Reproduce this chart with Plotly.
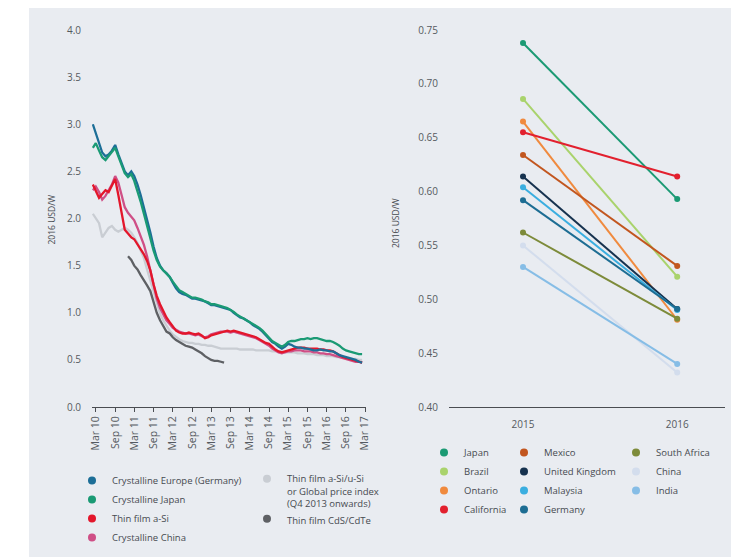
import pandas as pd
import plotly.graph_objects as go

W, H = 741, 557
# the page body adds an 8px offset; positions below are given in screen pixels
OX, OY = 8, 8

def px(x):
    return (x - OX) / W

def py(y):
    return 1 - (y - OY) / H

# ---------------- Left chart data (2016 USD/W, monthly from Feb 2010) ----------------
months = pd.date_range("2010-02-01", "2017-02-01", freq="MS")

crys_germany = [3.00, 2.90, 2.80, 2.70, 2.66, 2.68, 2.72, 2.78, 2.68, 2.58, 2.50, 2.46, 2.50, 2.45,
                2.36, 2.25, 2.12, 1.98, 1.85, 1.70, 1.58, 1.50, 1.45, 1.42, 1.38, 1.32,
                1.26, 1.22, 1.20, 1.19, 1.17, 1.15, 1.15, 1.14, 1.13, 1.12, 1.10, 1.08,
                1.08, 1.07, 1.06, 1.05, 1.04, 1.03, 1.00, 0.97, 0.95, 0.94, 0.92, 0.90,
                0.87, 0.85, 0.83, 0.80, 0.76, 0.72, 0.69, 0.67, 0.64, 0.62, 0.64, 0.67,
                0.66, 0.64, 0.63, 0.63, 0.62, 0.62, 0.61, 0.60, 0.60, 0.61, 0.60, 0.60,
                0.59, 0.59, 0.57, 0.55, 0.54, 0.53, 0.52, 0.51, 0.50, 0.48, 0.47]

crys_japan = [2.75, 2.80, 2.72, 2.65, 2.62, 2.66, 2.70, 2.75, 2.66, 2.56, 2.48, 2.44, 2.47, 2.40,
              2.30, 2.18, 2.05, 1.92, 1.80, 1.66, 1.56, 1.49, 1.45, 1.42, 1.38, 1.33,
              1.28, 1.24, 1.22, 1.20, 1.18, 1.16, 1.16, 1.15, 1.14, 1.12, 1.11, 1.09,
              1.09, 1.08, 1.07, 1.06, 1.05, 1.03, 1.01, 0.98, 0.96, 0.94, 0.92, 0.90,
              0.88, 0.86, 0.84, 0.81, 0.77, 0.73, 0.70, 0.68, 0.66, 0.64, 0.66, 0.69,
              0.70, 0.70, 0.71, 0.72, 0.72, 0.73, 0.72, 0.73, 0.73, 0.72, 0.71, 0.70,
              0.70, 0.69, 0.67, 0.65, 0.62, 0.60, 0.59, 0.58, 0.57, 0.56, 0.56]

thin_asi = [2.36, 2.30, 2.22, 2.26, 2.30, 2.28, 2.35, 2.42, 2.25, 2.08, 1.88, 1.84, 1.80, 1.78,
            1.73, 1.68, 1.62, 1.55, 1.45, 1.30, 1.18, 1.09, 1.02, 0.95, 0.90, 0.85,
            0.81, 0.79, 0.78, 0.78, 0.79, 0.78, 0.77, 0.78, 0.76, 0.73, 0.74, 0.76,
            0.77, 0.78, 0.79, 0.80, 0.81, 0.80, 0.81, 0.80, 0.79, 0.78, 0.77, 0.76,
            0.75, 0.74, 0.72, 0.70, 0.68, 0.67, 0.64, 0.61, 0.59, 0.58, 0.59, 0.60,
            0.61, 0.62, 0.63, 0.63, 0.63, 0.62, 0.62, 0.62, 0.62, 0.61, 0.61, 0.60,
            0.60, 0.59, 0.57, 0.55, 0.53, 0.52, 0.51, 0.50, 0.49, 0.48, 0.47]

crys_china = [2.30, 2.34, 2.28, 2.20, 2.24, 2.30, 2.36, 2.45, 2.38, 2.25, 2.12, 2.06, 2.02, 1.98,
              1.90, 1.82, 1.72, 1.60, 1.45, 1.30, 1.15, 1.05, 0.98, 0.92, 0.88, 0.84,
              0.82, 0.80, 0.79, 0.78, 0.78, 0.77, 0.76, 0.77, 0.75, 0.74, 0.75, 0.77,
              0.78, 0.79, 0.80, 0.80, 0.80, 0.79, 0.80, 0.79, 0.78, 0.77, 0.76, 0.75,
              0.74, 0.73, 0.71, 0.69, 0.67, 0.65, 0.62, 0.60, 0.58, 0.57, 0.58, 0.59,
              0.59, 0.60, 0.60, 0.60, 0.59, 0.59, 0.59, 0.58, 0.58, 0.57, 0.57, 0.56,
              0.56, 0.55, 0.54, 0.53, 0.52, 0.51, 0.50, 0.49, 0.48, 0.48, 0.47]

thin_asi_usi_global = [2.05, 2.00, 1.95, 1.80, 1.85, 1.90, 1.92, 1.88, 1.86, 1.88, 1.90, 1.88, 1.85, 1.80,
                       1.74, 1.66, 1.58, 1.46, 1.34, 1.22, 1.10, 0.99, 0.92, 0.86, 0.81, 0.77,
                       0.74, 0.72, 0.70, 0.69, 0.68, 0.68, 0.67, 0.67, 0.66, 0.66, 0.65, 0.65,
                       0.64, 0.63, 0.62, 0.62, 0.62, 0.62, 0.62, 0.62, 0.61, 0.61, 0.61, 0.61,
                       0.61, 0.60, 0.60, 0.60, 0.60, 0.60, 0.59, 0.59, 0.59, 0.59, 0.58, 0.58,
                       0.58, 0.58, 0.57, 0.57, 0.57, 0.56, 0.56, 0.56, 0.55, 0.55, 0.55, 0.54,
                       0.54, 0.54, 0.53, 0.53, 0.52, 0.52, 0.52, 0.51, 0.51, 0.50, 0.50]

cdte_months = pd.date_range("2011-01-01", "2013-07-01", freq="MS")
thin_cdte = [1.60, 1.56, 1.50, 1.46, 1.40, 1.35, 1.29, 1.23, 1.10, 1.00, 0.92, 0.86, 0.80, 0.78,
             0.74, 0.71, 0.69, 0.67, 0.65, 0.64, 0.63, 0.61, 0.59, 0.57, 0.54, 0.52, 0.50,
             0.49, 0.49, 0.48, 0.47]

left_tick_dates = pd.date_range("2010-03-01", "2017-03-01", freq="6MS")
left_tick_labels = ["Mar 10", "Sep 10", "Mar 11", "Sep 11", "Mar 12", "Sep 12", "Mar 13", "Sep 13",
                    "Mar 14", "Sep 14", "Mar 15", "Sep 15", "Mar 16", "Sep 16", "Mar 17"]

# ---------------- Right chart data (2016 USD/W) ----------------
years = ["2015", "2016"]
countries = ["Japan", "Brazil", "Ontario", "California", "Mexico", "United Kingdom",
             "Malaysia", "Germany", "South Africa", "China", "India"]
price_2015 = [0.738, 0.686, 0.665, 0.655, 0.634, 0.614, 0.604, 0.592, 0.562, 0.550, 0.530]
price_2016 = [0.593, 0.521, 0.481, 0.614, 0.531, 0.491, 0.490, 0.491, 0.482, 0.432, 0.440]
country_colors = ["#1b9a74", "#a9d36c", "#f08a3e", "#e2202e", "#c2561f", "#16324f",
                  "#3aaee0", "#1d6d93", "#7d8b3a", "#d3dded", "#86bde6"]
country_legend = ["legend3", "legend3", "legend3", "legend3", "legend4", "legend4",
                  "legend4", "legend4", "legend5", "legend5", "legend5"]

left_series = [
    ("Thin film a-Si/u-Si<br>or Global price index<br>(Q4 2013 onwards)", months, thin_asi_usi_global, "#c9cdd3", "legend2"),
    ("Thin film CdS/CdTe", cdte_months, thin_cdte, "#5e6064", "legend2"),
    ("Crystalline China", months, crys_china, "#cf4f86", "legend"),
    ("Thin film a-Si", months, thin_asi, "#e3162b", "legend"),
    ("Crystalline Europe (Germany)", months, crys_germany, "#1c6e97", "legend"),
    ("Crystalline Japan", months, crys_japan, "#1a9a74", "legend"),
]
left_legend_order = ["Crystalline Europe (Germany)", "Crystalline Japan", "Thin film a-Si",
                     "Crystalline China",
                     "Thin film a-Si/u-Si<br>or Global price index<br>(Q4 2013 onwards)",
                     "Thin film CdS/CdTe"]

FONT = "Open Sans"
TXT = "#555a60"
AXC = "#4a4d52"

fig = go.Figure()

# left lines
for name, xs, ys, col, lg in left_series:
    fig.add_trace(go.Scatter(x=xs, y=ys, mode="lines", name=name, showlegend=False,
                             line=dict(color=col, width=2.3), xaxis="x", yaxis="y",
                             hoverinfo="skip"))
# left legend entries (dot symbols)
col_of = {s[0]: s[3] for s in left_series}
lg_of = {s[0]: s[4] for s in left_series}
for i, name in enumerate(left_legend_order):
    fig.add_trace(go.Scatter(x=[None], y=[None], mode="markers", name=name,
                             marker=dict(color=col_of[name], size=8),
                             legend=lg_of[name], legendgroup="L%d" % i,
                             xaxis="x", yaxis="y"))

# right lines
for c, v15, v16, col in zip(countries, price_2015, price_2016, country_colors):
    fig.add_trace(go.Scatter(x=years, y=[v15, v16], mode="lines+markers", name=c,
                             showlegend=False, line=dict(color=col, width=2),
                             marker=dict(color=col, size=6), xaxis="x2", yaxis="y2"))
for i, (c, col, lg) in enumerate(zip(countries, country_colors, country_legend)):
    fig.add_trace(go.Scatter(x=[None], y=[None], mode="markers", name=c,
                             marker=dict(color=col, size=8), legend=lg,
                             legendgroup="R%d" % i, xaxis="x2", yaxis="y2"))

ydom = [py(407), py(30)]

def legend_box(x_px, y_px, valign="middle"):
    return dict(x=px(x_px), y=py(y_px), xanchor="left", yanchor="top",
                bgcolor="rgba(0,0,0,0)", borderwidth=0, tracegroupgap=0,
                font=dict(family=FONT, size=9.5, color="#464a50"), valign=valign,
                itemclick=False, itemdoubleclick=False)

fig.update_layout(
    width=W, height=H,
    margin=dict(l=0, r=0, t=0, b=0, autoexpand=False),
    paper_bgcolor="white", plot_bgcolor="rgba(0,0,0,0)",
    font=dict(family=FONT, color=TXT, size=10),
    xaxis=dict(domain=[px(92), px(366)], type="date", automargin=False,
               range=["2010-01-24", "2017-03-10"],
               tickvals=left_tick_dates, ticktext=left_tick_labels, tickangle=-90,
               ticks="outside", ticklen=4, tickcolor=AXC, tickwidth=1,
               showline=True, linecolor=AXC, linewidth=1, showgrid=False, zeroline=False,
               tickfont=dict(size=10.5, color=TXT)),
    yaxis=dict(domain=ydom, range=[0, 4.0], dtick=0.5, tickformat=".1f", automargin=False,
               showgrid=False, zeroline=False, showline=False, ticks="",
               ticklabelstandoff=10, tickfont=dict(size=10, color=TXT)),
    xaxis2=dict(domain=[px(449), px(725)], type="category", range=[-0.48, 1.31],
                automargin=False,
                showline=True, linecolor=AXC, linewidth=1.2, ticks="", showgrid=False,
                zeroline=False, ticklabelstandoff=8, tickfont=dict(size=10, color=TXT)),
    yaxis2=dict(domain=ydom, range=[0.40, 0.75], dtick=0.05, tickformat=".2f",
                anchor="x2", automargin=False, showgrid=False, zeroline=False,
                showline=False, ticks="",
                ticklabelstandoff=10, tickfont=dict(size=10, color=TXT)),
    legend=legend_box(72, 466),
    legend2=legend_box(247, 466, valign="top"),
    legend3=legend_box(424, 438),
    legend4=legend_box(504, 438),
    legend5=legend_box(616, 438),
    shapes=[dict(type="rect", xref="paper", yref="paper", x0=px(29), x1=px(731),
                 y0=0, y1=py(8), fillcolor="#e9ecf1", line=dict(width=0), layer="below")],
    annotations=[
        dict(text="2016 USD/W", xref="paper", yref="paper", x=px(43), y=py(220),
             textangle=-90, showarrow=False, font=dict(size=8.5, color="#464a50")),
        dict(text="2016 USD/W", xref="paper", yref="paper", x=px(395), y=py(223),
             textangle=-90, showarrow=False, font=dict(size=8.5, color="#464a50")),
    ],
)

fig.write_html("out.html")
